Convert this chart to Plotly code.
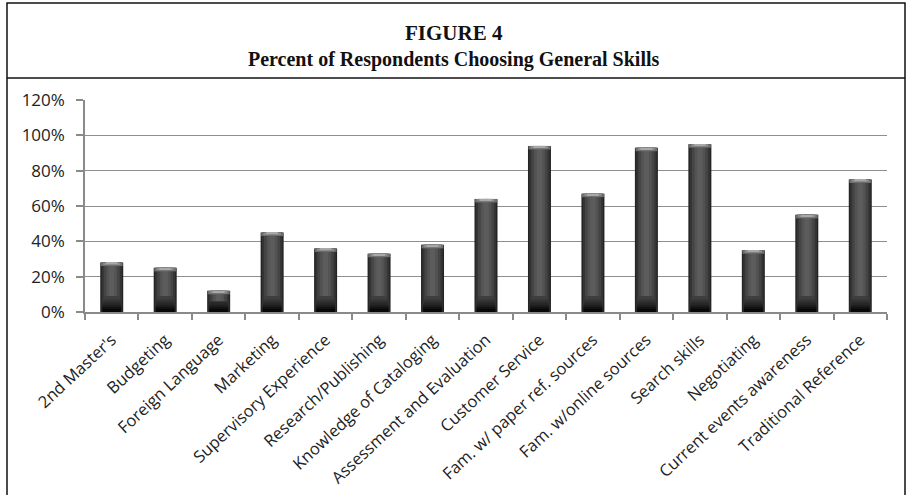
import plotly.graph_objects as go

# Survey results: share of respondents choosing each general skill
skills = [
    "2nd Master's", "Budgeting", "Foreign Language", "Marketing",
    "Supervisory Experience", "Research/Publishing", "Knowledge of Cataloging",
    "Assessment and Evaluation", "Customer Service", "Fam. w/ paper ref. sources",
    "Fam. w/online sources", "Search skills", "Negotiating",
    "Current events awareness", "Traditional Reference",
]
percent_choosing = [0.28, 0.25, 0.12, 0.45, 0.36, 0.33, 0.38, 0.64, 0.94, 0.67,
                    0.93, 0.95, 0.35, 0.55, 0.75]
y_tick_values = [0, 0.2, 0.4, 0.6, 0.8, 1.0, 1.2]
y_tick_labels = ["0%", "20%", "40%", "60%", "80%", "100%", "120%"]

W, H = 908, 495
ML, MR, MT, MB = 85, 21, 100, 183
PW, PH = W - ML - MR, H - MT - MB


def px_x(x):
    return (x - ML) / PW


def px_y(y):
    return (H - MB - y) / PH


fig = go.Figure()
n = len(skills)

# Layered bars give each column a rounded, shaded look
layers = [(0.43, "#232323"), (0.38, "#343434"), (0.30, "#454545"),
          (0.20, "#535353"), (0.10, "#5c5c5c")]
for w, c in layers:
    fig.add_trace(go.Bar(x=skills, y=percent_choosing, width=w,
                         marker=dict(color=c, line=dict(width=0)),
                         hoverinfo="skip", showlegend=False))

# darker lower part fading to black at the foot
foot = [(0.09, 0.30, "#3e3e3e"), (0.07, 0.32, "#333333"), (0.055, 0.34, "#282828"),
        (0.04, 0.35, "#1d1d1d"), (0.028, 0.36, "#121212"), (0.016, 0.34, "#070707")]
for h, w, c in foot:
    fig.add_trace(go.Bar(x=skills, y=[min(h, v * 0.5) for v in percent_choosing],
                         width=w, marker=dict(color=c, line=dict(width=0)),
                         hoverinfo="skip", showlegend=False))

# light bevel at the top of each column
for h, w, c in [(0.02, 0.41, "#6e6e6e"), (0.014, 0.32, "#8c8c8c"),
                (0.008, 0.22, "#a8a8a8")]:
    fig.add_trace(go.Bar(x=skills, y=[h] * n,
                         base=[v - h for v in percent_choosing], width=w,
                         marker=dict(color=c, line=dict(width=0)),
                         hoverinfo="skip", showlegend=False))

fig.update_layout(
    width=W, height=H,
    margin=dict(l=ML, r=MR, t=MT, b=MB, autoexpand=False),
    barmode="overlay",
    paper_bgcolor="white", plot_bgcolor="white",
    font=dict(family="Open Sans", size=16, color="#222222"),
    xaxis=dict(
        type="category", tickangle=-43, tickson="boundaries",
        ticks="outside", ticklen=6, tickcolor="#8a8a8a", tickwidth=1.5,
        showline=True, linecolor="#8a8a8a", linewidth=1.5,
        showgrid=False, tickfont=dict(size=16.5, color="#222222"),
        ticklabelstandoff=10,
        range=[-0.5, n - 0.5],
    ),
    yaxis=dict(
        range=[0, 1.2], tickvals=y_tick_values, ticktext=y_tick_labels,
        ticks="outside", ticklen=7, tickcolor="#8a8a8a", tickwidth=1.5,
        showline=True, linecolor="#8a8a8a", linewidth=1.5,
        showgrid=True, gridcolor="#8e8e8e", gridwidth=1.2,
        zeroline=False, tickfont=dict(size=17, color="#222222"),
        ticklabelstandoff=8,
    ),
    shapes=[
        # outer frame and title divider
        dict(type="rect", xref="paper", yref="paper",
             x0=px_x(7), x1=px_x(905), y0=px_y(H + 5), y1=px_y(3),
             line=dict(color="#111111", width=1.5), fillcolor="rgba(0,0,0,0)"),
        dict(type="line", xref="paper", yref="paper",
             x0=px_x(7), x1=px_x(905), y0=px_y(78), y1=px_y(78),
             line=dict(color="#111111", width=1.5)),
    ],
    annotations=[
        dict(text="<b>FIGURE 4</b>", xref="paper", yref="paper",
             x=px_x(454), y=px_y(19), showarrow=False,
             font=dict(family="Liberation Serif", size=21, color="#111111")),
        dict(text="<b>Percent of Respondents Choosing General Skills</b>",
             xref="paper", yref="paper", x=px_x(454), y=px_y(46),
             showarrow=False,
             font=dict(family="Liberation Serif", size=20, color="#111111")),
    ],
)

fig.write_html("out.html")
